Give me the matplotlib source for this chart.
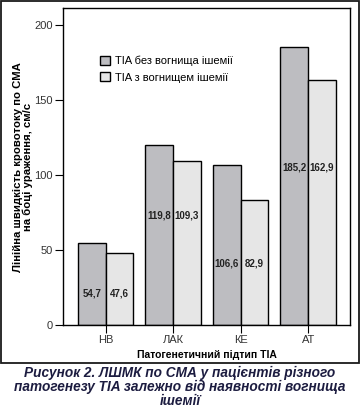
import matplotlib.pyplot as plt
from matplotlib.patches import Rectangle

plt.rcParams['font.family'] = ['Liberation Sans', 'DejaVu Sans']

# data
categories = ["НВ", "ЛАК", "КЕ", "АТ"]
no_focus = [54.7, 119.8, 106.6, 185.2]
with_focus = [47.6, 109.3, 82.9, 162.9]
label_pos = [20.7, 72.7, 40.7, 105.0]   # where the value labels sit
series_names = ["TIA без вогнища ішемії", "TIA з вогнищем ішемії"]
yticks = [0, 50, 100, 150, 200]

W, H = 360, 409
fig = plt.figure(figsize=(W / 100, H / 100), dpi=100)

# outer frame of the figure
fig.patches.append(Rectangle((1 / W, 1 - 363 / H), 358 / W, 362 / H,
                             transform=fig.transFigure, fill=False,
                             edgecolor="#1a1a1a", linewidth=1.3))

ax = fig.add_axes([63 / W, 1 - 325 / H, 287 / W, 317 / H])

x = list(range(len(categories)))
w = 0.41
ax.bar([i - w / 2 for i in x], no_focus, w, color="#bdbdc1",
       edgecolor="black", linewidth=1.0, label=series_names[0])
ax.bar([i + w / 2 for i in x], with_focus, w, color="#e6e6e6",
       edgecolor="black", linewidth=1.0, label=series_names[1])

for i in x:
    ax.text(i - w / 2, label_pos[i], f"{no_focus[i]}".replace(".", ","),
            ha="center", va="center", fontsize=7, fontweight="bold", color="#222")
    ax.text(i + w / 2, label_pos[i], f"{with_focus[i]}".replace(".", ","),
            ha="center", va="center", fontsize=7, fontweight="bold", color="#222")

ax.set_xlim(-0.63, 3.62)
ax.set_ylim(0, 211)
ax.set_xticks(x)
ax.set_xticklabels(categories, fontsize=8, color="#333")
ax.set_yticks(yticks)
ax.set_yticklabels([str(t) for t in yticks], fontsize=8, color="#333")
ax.tick_params(direction="out", length=6, width=0.8, pad=1.5)
for s in ax.spines.values():
    s.set_linewidth(1.0)

ax.set_xlabel("Патогенетичний підтип TIA", fontsize=7.5, fontweight="bold",
              labelpad=3)
fig.text(23 / W, 1 - 167 / H,
         "Лінійна швидкість кровотоку по СМА\nна боці ураження, см/с",
         rotation=90, ha="center", va="center", fontsize=8.2,
         fontweight="bold", linespacing=1.0)

ax.legend(loc="upper left", bbox_to_anchor=(94 / W, 1 - 50 / H),
          bbox_transform=fig.transFigure, frameon=False, fontsize=8,
          handlelength=0.9, handleheight=0.9, handletextpad=0.5,
          borderpad=0, labelspacing=0.55)

fig.text(0.5, 1 - 387 / H,
         "Рисунок 2. ЛШМК по СМА у пацієнтів різного\n"
         "патогенезу TIA залежно від наявності вогнища\nішемії",
         ha="center", va="center", fontsize=9.8, fontweight="bold",
         style="italic", color="#1c1c40", linespacing=0.98)

fig.savefig("out.png", dpi=100)
